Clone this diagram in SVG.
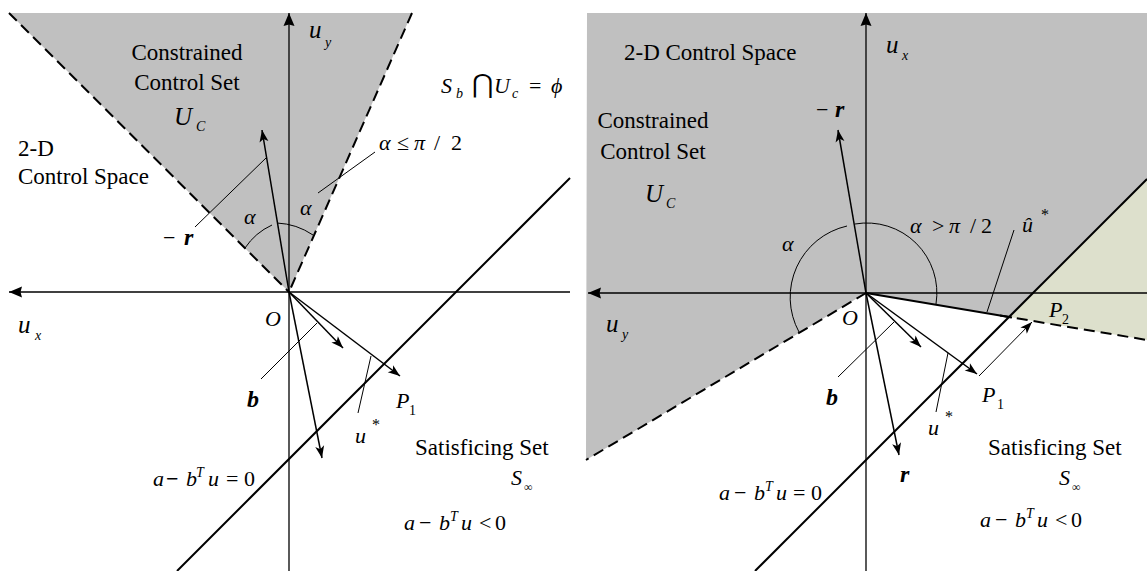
<svg xmlns="http://www.w3.org/2000/svg" width="1147" height="571" viewBox="0 0 1147 571" font-family="Liberation Serif, Tinos, Times New Roman, serif">
<defs>
<style>
text{fill:#000}
.t{font-size:23px}
.m{font-size:22px;font-style:italic}
.s{font-size:14px;font-style:italic}
.n{font-style:normal}
.bi{font-size:24px;font-style:italic;font-weight:bold}
.ax{stroke:#000;stroke-width:1.3;fill:none}
.vec{stroke:#000;stroke-width:1.5;fill:none}
.thin{stroke:#000;stroke-width:1;fill:none}
.dash{stroke:#000;stroke-width:2;fill:none;stroke-dasharray:11 6}
.bnd{stroke:#000;stroke-width:2;fill:none}
.gray{fill:#c0c0c0}
.green{fill:#dde0cc}
</style>
<marker id="axh" viewBox="-14 -7 15 14" refX="0" refY="0" markerWidth="15" markerHeight="14" markerUnits="userSpaceOnUse" orient="auto"><path d="M0,0 L-13,-5.5 L-11.5,0 L-13,5.5 Z" fill="#000"/></marker>
<marker id="ah" viewBox="-14 -6 15 12" refX="0" refY="0" markerWidth="15" markerHeight="12" markerUnits="userSpaceOnUse" orient="auto"><path d="M0,0 L-12,-4.5 L-9,0 L-12,4.5 Z" fill="#000"/></marker>
</defs>

<g id="left-panel">
  <polygon class="gray" points="9,13 412,13 289,292"/>
  <line class="dash" x1="9" y1="13" x2="289" y2="292"/>
  <line class="dash" x1="412" y1="13" x2="289" y2="292"/>
  <line class="ax" x1="289" y1="571" x2="289" y2="13" marker-end="url(#axh)"/>
  <line class="ax" x1="570" y1="292" x2="9" y2="292" marker-end="url(#axh)"/>
  <line class="bnd" x1="177" y1="571" x2="570" y2="178"/>
  <line class="vec" x1="289" y1="292" x2="262" y2="130" marker-end="url(#ah)"/>
  <line class="vec" x1="289" y1="292" x2="343" y2="348" marker-end="url(#ah)"/>
  <line class="vec" x1="289" y1="292" x2="400" y2="376" marker-end="url(#ah)"/>
  <line class="vec" x1="289" y1="292" x2="322" y2="458" marker-end="url(#ah)"/>
  <path class="thin" d="M245,248 A65,65 0 0 1 272,225"/>
  <path class="thin" d="M277,223 A70,70 0 0 1 313,235"/>
  <line class="thin" x1="266" y1="158" x2="195" y2="227"/>
  <line class="thin" x1="375" y1="152" x2="318" y2="193"/>
  <line class="thin" x1="317" y1="323" x2="261" y2="379"/>
  <line class="thin" x1="371" y1="356" x2="358" y2="413"/>

  <text class="t" x="187" y="60" text-anchor="middle">Constrained</text>
  <text class="t" x="187" y="90" text-anchor="middle">Control Set</text>
  <text class="m" y="125"><tspan x="174" font-size="25">U</tspan><tspan x="196" y="131" class="s" font-size="15">C</tspan></text>
  <text class="m" y="38"><tspan x="309" font-size="25">u</tspan><tspan x="325" y="47" class="s">y</tspan></text>
  <text class="m" y="93" font-size="24"><tspan x="441">S</tspan><tspan x="456" y="98" class="s">b</tspan><tspan x="472" y="93" class="n" font-size="26">⋂</tspan><tspan x="494">U</tspan><tspan x="512" y="98" class="s">c</tspan><tspan x="529" y="93" class="n">=</tspan><tspan x="551">ϕ</tspan></text>
  <text class="m" y="150"><tspan x="379">α</tspan><tspan x="397" class="n">≤</tspan><tspan x="414">π</tspan><tspan x="434" class="n">/</tspan><tspan x="451" class="n">2</tspan></text>
  <text class="t" x="18" y="156">2-D</text>
  <text class="t" x="18" y="184">Control Space</text>
  <text class="m" y="245"><tspan x="163" class="n">−</tspan><tspan x="184" class="bi">r</tspan></text>
  <text class="m" x="244" y="224">α</text>
  <text class="m" x="300" y="215">α</text>
  <text class="m" y="333"><tspan x="18" font-size="25">u</tspan><tspan x="35" y="340" class="s">x</tspan></text>
  <text class="m" x="265" y="326" font-size="16">O</text>
  <text class="bi" x="247" y="407">b</text>
  <text class="m" y="443" font-size="25"><tspan x="355">u</tspan><tspan x="372" y="430" class="n" font-size="16">*</tspan></text>
  <text class="m" y="408"><tspan x="396">P</tspan><tspan x="409" y="415" class="s n">1</tspan></text>
  <text class="t" x="415" y="455">Satisficing Set</text>
  <text class="m" y="485"><tspan x="511">S</tspan><tspan x="524" y="491" class="n" font-size="12">∞</tspan></text>
  <text class="m" y="486"><tspan x="153">a</tspan><tspan x="166" class="n" font-weight="bold">−</tspan><tspan x="186">b</tspan><tspan x="196" y="477" class="s">T</tspan><tspan x="208" y="486">u</tspan><tspan x="226" class="n">=</tspan><tspan x="244" class="n">0</tspan></text>
  <text class="m" y="530"><tspan x="404">a</tspan><tspan x="419" class="n">−</tspan><tspan x="439">b</tspan><tspan x="450" y="521" class="s">T</tspan><tspan x="461" y="530">u</tspan><tspan x="479" class="n">&lt;</tspan><tspan x="495" class="n">0</tspan></text>
</g>

<g id="right-panel">
  <polygon class="gray" points="587,13 1147,13 1147,179 1010,317 866,293 586,460"/>
  <polygon class="green" points="1010,317 1147,179 1147,340"/>
  <line class="dash" x1="866" y1="293" x2="586" y2="460"/>
  <line class="dash" x1="1000" y1="315.5" x2="1147" y2="340"/>
  <line class="bnd" x1="866" y1="293" x2="1012" y2="317.5"/>
  <line class="ax" x1="866" y1="571" x2="866" y2="13" marker-end="url(#axh)"/>
  <line class="ax" x1="1147" y1="293" x2="588" y2="293" marker-end="url(#axh)"/>
  <line class="bnd" x1="755" y1="571" x2="1147" y2="179"/>
  <line class="vec" x1="866" y1="293" x2="838" y2="130" marker-end="url(#ah)"/>
  <line class="vec" x1="866" y1="293" x2="921" y2="347" marker-end="url(#ah)"/>
  <line class="vec" x1="866" y1="293" x2="977" y2="374" marker-end="url(#ah)"/>
  <line class="vec" x1="866" y1="293" x2="899" y2="455" marker-end="url(#ah)"/>
  <line class="thin" x1="979" y1="376" x2="1032" y2="322" marker-end="url(#ah)"/>
  <path class="thin" d="M847,226 A73,73 0 0 0 799,332"/>
  <path class="thin" d="M855,224 A70,70 0 0 1 936,304"/>
  <line class="thin" x1="1014" y1="230" x2="987" y2="312"/>
  <line class="thin" x1="894" y1="322" x2="838" y2="377"/>
  <line class="thin" x1="948" y1="353" x2="936" y2="412"/>

  <text class="t" x="624" y="60">2-D Control Space</text>
  <text class="m" y="53"><tspan x="886" font-size="25">u</tspan><tspan x="902" y="60" class="s">x</tspan></text>
  <text class="m" y="117"><tspan x="816" class="n">−</tspan><tspan x="835" class="bi">r</tspan></text>
  <text class="t" x="653" y="128" text-anchor="middle">Constrained</text>
  <text class="t" x="653" y="159" text-anchor="middle">Control Set</text>
  <text class="m" y="202"><tspan x="645" font-size="25">U</tspan><tspan x="666" y="208" class="s" font-size="15">C</tspan></text>
  <text class="m" x="782" y="251">α</text>
  <text class="m" y="233"><tspan x="910">α</tspan><tspan x="932" class="n">&gt;</tspan><tspan x="949">π</tspan><tspan x="970" class="n">/</tspan><tspan x="981" class="n">2</tspan></text>
  <text class="m" y="232" font-size="25"><tspan x="1022">û</tspan><tspan x="1041" y="220" class="n" font-size="16">*</tspan></text>
  <text class="m" y="332"><tspan x="606" font-size="25">u</tspan><tspan x="622" y="339" class="s">y</tspan></text>
  <text class="m" x="842" y="325" font-size="16">O</text>
  <text class="bi" x="826" y="405">b</text>
  <text class="bi" x="900" y="482">r</text>
  <text class="m" y="435" font-size="25"><tspan x="928">u</tspan><tspan x="945" y="422" class="n" font-size="16">*</tspan></text>
  <text class="m" y="402"><tspan x="982">P</tspan><tspan x="997" y="409" class="s n">1</tspan></text>
  <text class="m" y="317"><tspan x="1049">P</tspan><tspan x="1062" y="324" class="s n">2</tspan></text>
  <text class="t" x="988" y="455">Satisficing Set</text>
  <text class="m" y="485"><tspan x="1059">S</tspan><tspan x="1072" y="491" class="n" font-size="12">∞</tspan></text>
  <text class="m" y="500"><tspan x="719">a</tspan><tspan x="734" class="n">−</tspan><tspan x="754">b</tspan><tspan x="765" y="491" class="s">T</tspan><tspan x="776" y="500">u</tspan><tspan x="793" class="n">=</tspan><tspan x="811" class="n">0</tspan></text>
  <text class="m" y="527"><tspan x="980">a</tspan><tspan x="995" class="n">−</tspan><tspan x="1015">b</tspan><tspan x="1026" y="518" class="s">T</tspan><tspan x="1037" y="527">u</tspan><tspan x="1055" class="n">&lt;</tspan><tspan x="1071" class="n">0</tspan></text>
</g>
</svg>
